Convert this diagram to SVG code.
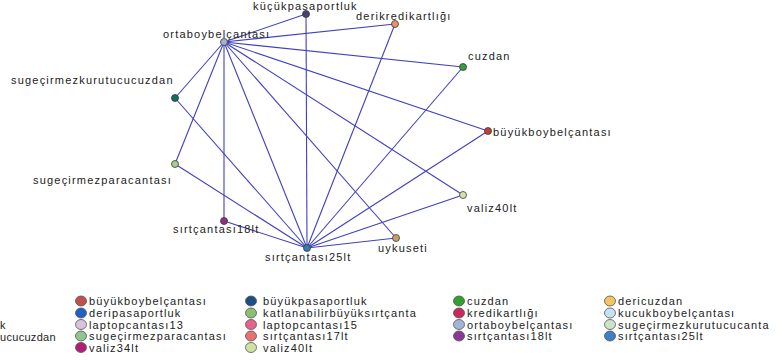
<svg xmlns="http://www.w3.org/2000/svg" width="781" height="360" viewBox="0 0 781 360">
<style>
.bg{fill:#ffffff}
.e{stroke:#4040c0;stroke-width:1.1;fill:none}
.n{stroke:#3a3a3a;stroke-width:0.8}
.lbl{font-family:"Liberation Sans",Arial,sans-serif;font-size:11px;letter-spacing:1.2px;fill:#222}
.lg{font-family:"Liberation Sans",Arial,sans-serif;font-size:11px;letter-spacing:1.15px;fill:#222}
.lc{stroke:#555;stroke-width:0.8}
</style>
<rect class="bg" x="0" y="0" width="781" height="360"/>
<g id="connectors">
<line class="e" x1="224" y1="42" x2="306" y2="14"/>
<line class="e" x1="224" y1="42" x2="395" y2="24"/>
<line class="e" x1="224" y1="42" x2="463" y2="67"/>
<line class="e" x1="224" y1="42" x2="488" y2="131"/>
<line class="e" x1="224" y1="42" x2="463" y2="195"/>
<line class="e" x1="224" y1="42" x2="396" y2="238"/>
<line class="e" x1="224" y1="42" x2="307" y2="248"/>
<line class="e" x1="224" y1="42" x2="224" y2="221"/>
<line class="e" x1="224" y1="42" x2="175" y2="98"/>
<line class="e" x1="224" y1="42" x2="175" y2="164"/>
<line class="e" x1="307" y1="248" x2="306" y2="14"/>
<line class="e" x1="307" y1="248" x2="395" y2="24"/>
<line class="e" x1="307" y1="248" x2="463" y2="67"/>
<line class="e" x1="307" y1="248" x2="488" y2="131"/>
<line class="e" x1="307" y1="248" x2="463" y2="195"/>
<line class="e" x1="307" y1="248" x2="396" y2="238"/>
<line class="e" x1="307" y1="248" x2="224" y2="221"/>
<line class="e" x1="307" y1="248" x2="175" y2="164"/>
<line class="e" x1="307" y1="248" x2="175" y2="98"/>
</g>
<g id="kucukpasaportluk"><circle class="n" cx="306" cy="14" r="3.5" fill="#4a3f6e"/><text class="lbl" x="253" y="10">küçükpasaportluk</text></g>
<g id="derikredikartligi"><circle class="n" cx="395" cy="24" r="3.5" fill="#e8906a"/><text class="lbl" x="356" y="20">derikredikartlığı</text></g>
<g id="ortaboybelcantasi"><circle class="n" cx="224" cy="42" r="3.5" fill="#a4b2d4"/><text class="lbl" x="163" y="38">ortaboybelçantası</text></g>
<g id="cuzdan"><circle class="n" cx="463" cy="67" r="3.5" fill="#3a9c3a"/><text class="lbl" x="468" y="60">cuzdan</text></g>
<g id="buyukboybelcantasi"><circle class="n" cx="488" cy="131" r="3.5" fill="#c0403a"/><text class="lbl" x="493" y="136">büyükboybelçantası</text></g>
<g id="valiz40lt"><circle class="n" cx="463" cy="195" r="3.5" fill="#d2e4a4"/><text class="lbl" x="467" y="212">valiz40lt</text></g>
<g id="sugecirmezkurutucucuzdan"><circle class="n" cx="175" cy="98" r="3.5" fill="#116e5c"/><text class="lbl" x="11" y="84">sugeçirmezkurutucucuzdan</text></g>
<g id="sugecirmezparacantasi"><circle class="n" cx="175" cy="164" r="3.5" fill="#9ed08e"/><text class="lbl" x="33" y="184">sugeçirmezparacantası</text></g>
<g id="sirtcantasi18lt"><circle class="n" cx="224" cy="221" r="3.5" fill="#8e327e"/><text class="lbl" x="173" y="233">sırtçantası18lt</text></g>
<g id="uykuseti"><circle class="n" cx="396" cy="238" r="3.5" fill="#c8a070"/><text class="lbl" x="378" y="252">uykuseti</text></g>
<g id="sirtcantasi25lt"><circle class="n" cx="307" cy="248" r="3.5" fill="#2f7fa8"/><text class="lbl" x="265" y="261">sırtçantası25lt</text></g>
<g id="legend">
<text class="lg" x="0" y="329">k</text>
<text class="lg" x="0" y="341" style="letter-spacing:0.3px">ucucuzdan</text>
<ellipse class="lc" cx="81" cy="301" rx="5.5" ry="5" fill="#c0504d"/><text class="lg" x="89" y="305">büyükboybelçantası</text>
<ellipse class="lc" cx="81" cy="313" rx="5.5" ry="5" fill="#1f62c4"/><text class="lg" x="89" y="317">deripasaportluk</text>
<ellipse class="lc" cx="81" cy="324.5" rx="5.5" ry="5" fill="#dcc0e0"/><text class="lg" x="89" y="328.5">laptopcantası13</text>
<ellipse class="lc" cx="81" cy="336" rx="5.5" ry="5" fill="#90c490"/><text class="lg" x="89" y="340">sugeçirmezparacantası</text>
<ellipse class="lc" cx="81" cy="347.5" rx="5.5" ry="5" fill="#b01e78"/><text class="lg" x="89" y="351.5">valiz34lt</text>
<ellipse class="lc" cx="251" cy="301" rx="5.5" ry="5" fill="#1c4e82"/><text class="lg" x="263" y="305">büyükpasaportluk</text>
<ellipse class="lc" cx="251" cy="313" rx="5.5" ry="5" fill="#8cc070"/><text class="lg" x="263" y="317">katlanabilirbüyüksırtçanta</text>
<ellipse class="lc" cx="251" cy="324.5" rx="5.5" ry="5" fill="#e8608c"/><text class="lg" x="263" y="328.5">laptopcantası15</text>
<ellipse class="lc" cx="251" cy="336" rx="5.5" ry="5" fill="#e87070"/><text class="lg" x="263" y="340">sırtçantası17lt</text>
<ellipse class="lc" cx="251" cy="347.5" rx="5.5" ry="5" fill="#cde4a0"/><text class="lg" x="263" y="351.5">valiz40lt</text>
<ellipse class="lc" cx="459" cy="301" rx="5.5" ry="5" fill="#30a030"/><text class="lg" x="467" y="305">cuzdan</text>
<ellipse class="lc" cx="459" cy="313" rx="5.5" ry="5" fill="#c8285a"/><text class="lg" x="467" y="317">kredikartlığı</text>
<ellipse class="lc" cx="459" cy="324.5" rx="5.5" ry="5" fill="#a4b4d8"/><text class="lg" x="467" y="328.5">ortaboybelçantası</text>
<ellipse class="lc" cx="459" cy="336" rx="5.5" ry="5" fill="#8a3a96"/><text class="lg" x="467" y="340">sırtçantası18lt</text>
<ellipse class="lc" cx="610" cy="301" rx="5.5" ry="5" fill="#f4c460"/><text class="lg" x="618" y="305">dericuzdan</text>
<ellipse class="lc" cx="610" cy="313" rx="5.5" ry="5" fill="#c4e2f2"/><text class="lg" x="618" y="317">kucukboybelçantası</text>
<ellipse class="lc" cx="610" cy="324.5" rx="5.5" ry="5" fill="#cce2cc"/><text class="lg" x="618" y="328.5">sugeçirmezkurutucucanta</text>
<ellipse class="lc" cx="610" cy="336" rx="5.5" ry="5" fill="#3f80c4"/><text class="lg" x="618" y="340">sırtçantası25lt</text>
</g>
</svg>
